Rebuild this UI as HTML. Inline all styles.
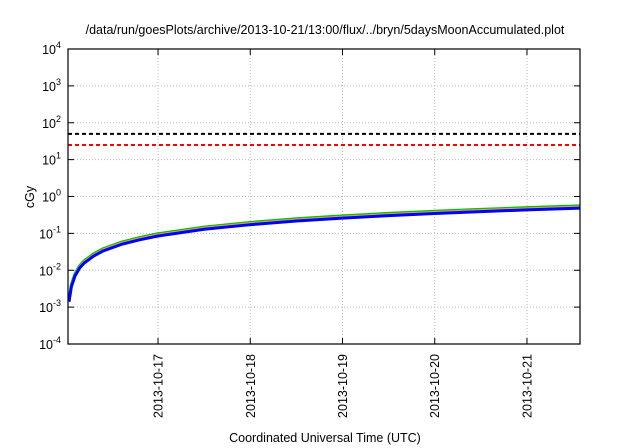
<!DOCTYPE html>
<html><head><meta charset="utf-8"><style>
body{margin:0;background:#fff}
svg{display:block;font-family:"Liberation Sans",sans-serif}
</style></head><body>
<svg width="640" height="448" viewBox="0 0 640 448">
<text x="325" y="34" text-anchor="middle" font-size="12.5">/data/run/goesPlots/archive/2013-10-21/13:00/flux/../bryn/5daysMoonAccumulated.plot</text>
<text x="325" y="442" text-anchor="middle" font-size="12.5">Coordinated Universal Time (UTC)</text>
<text transform="translate(34,197) rotate(-90)" text-anchor="middle" font-size="12.5">cGy</text>
<g id="grid"></g>
<g id="marks"></g>
<rect x="68" y="49" width="512" height="295" fill="none" stroke="#000" stroke-width="1.2"/>
<g id="axes"></g>
</svg>
<script>
const xTickDays=[17,18,19,20,21];
const xTickLabels=["2013-10-17","2013-10-18","2013-10-19","2013-10-20","2013-10-21"];
const yTickExps=[-4,-3,-2,-1,0,1,2,3,4];
const days=[16.035,16.06,16.1,16.15,16.2,16.3,16.4,16.6,16.8,17,17.5,18,18.5,19,19.5,20,20.5,21,21.575];
const blueVals=[0.0014,0.0035,0.007,0.0115,0.0157,0.024,0.033,0.05,0.067,0.085,0.129,0.172,0.216,0.259,0.303,0.346,0.39,0.433,0.483];
const orangeVals=blueVals.map(v=>v*1.1);
const greenVals=blueVals.map(v=>v*1.15);
const blackLevel=[50];
const redLevel=[25];
const L=68,R=580,T=49,B=344,d0=16.024,d1=21.575;
const X=d=>L+(d-d0)/(d1-d0)*(R-L);
const Y=v=>B-(Math.log10(v)+4)/8*(B-T);
const ns="http://www.w3.org/2000/svg";
function mk(t,a,p){const e=document.createElementNS(ns,t);for(const k in a)e.setAttribute(k,a[k]);p.appendChild(e);return e;}
const grid=document.getElementById('grid'),axes=document.getElementById('axes'),marks=document.getElementById('marks');
yTickExps.forEach(ex=>{const y=Y(Math.pow(10,ex));
 if(ex>-4&&ex<4){const g=mk('line',{x1:L,x2:R,y1:y,y2:y,stroke:'#bbb','stroke-dasharray':'1,2'},grid);
 }
 const t1=mk('line',{x1:L,x2:L+6,y1:y,y2:y,stroke:'#000'},axes);
 
 const t2=mk('line',{x1:R-6,x2:R,y1:y,y2:y,stroke:'#000'},axes);
 
 const tx=mk('text',{x:L-7,y:y+5,'text-anchor':'end','font-size':'12.5'},axes);
 
 tx.appendChild(document.createTextNode('10'));
 const s=mk('tspan',{dy:'-6','font-size':'9'},tx);s.textContent=String(ex);
});
xTickDays.forEach((d,i)=>{const x=X(d);
 const g=mk('line',{x1:x,x2:x,y1:T,y2:B,stroke:'#bbb','stroke-dasharray':'1,2'},grid);
 
 const t=mk('line',{x1:x,x2:x,y1:B-6,y2:B,stroke:'#000'},axes);
 
 const t2=mk('line',{x1:x,x2:x,y1:T,y2:T+6,stroke:'#000'},axes);
 
 const tx=mk('text',{transform:`translate(${x+4.5},354) rotate(-90)`,'text-anchor':'end','font-size':'12.5'},axes);
 
 tx.textContent=xTickLabels[i];
});
const bl=mk('line',{x1:L,x2:R,y1:Y(blackLevel[0]),y2:Y(blackLevel[0]),stroke:'#000','stroke-width':2,'stroke-dasharray':'4,3'},marks);

const rl=mk('line',{x1:L,x2:R,y1:Y(redLevel[0]),y2:Y(redLevel[0]),stroke:'#f00','stroke-width':2,'stroke-dasharray':'4,3'},marks);

function series(vals,color,w,name){const p=mk('polyline',{points:days.map((d,i)=>X(d)+','+Y(vals[i])).join(' '),fill:'none',stroke:color,'stroke-width':w,'stroke-linejoin':'round'},marks);
 }
series(greenVals,'#00c000',3,'green-series');
series(orangeVals,'#e0a060',2,'orange-series');
series(blueVals,'#0000ff',3,'blue-series');
</script>
</body></html>
